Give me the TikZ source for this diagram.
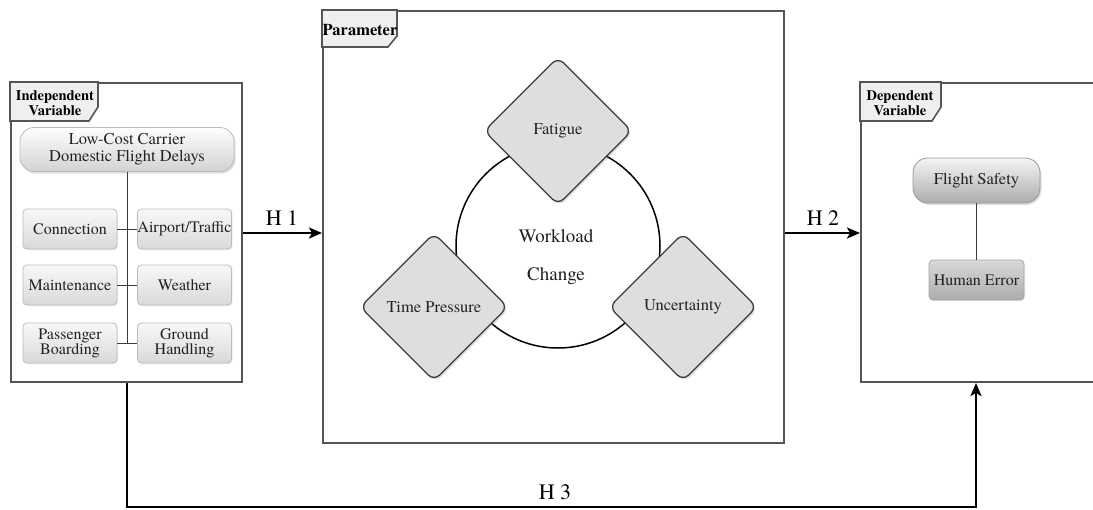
\documentclass[tikz,border=0pt]{standalone}
\usepackage{fontspec}
\newfontfamily\tnr{TeX Gyre Termes}
\usetikzlibrary{shapes.geometric,shadows,arrows.meta}
\definecolor{framegray}{HTML}{555555}
\definecolor{tabfill}{HTML}{EFEFEF}
\definecolor{diafill}{HTML}{DEDEDE}
\definecolor{diaedge}{HTML}{3C3C3C}
\definecolor{boxedge}{HTML}{BBBBBB}
\definecolor{txt}{HTML}{222222}
\tikzset{
  frame/.style={draw=framegray, line width=2pt, fill=white, inner sep=0pt},
  tab/.style={draw=framegray, line width=1.6pt, fill=tabfill},
  tabtext/.style={font=\tnr\fontsize{14.5}{16}\selectfont\bfseries, align=center, inner sep=0pt, text=black},
  smallbox/.style={draw=boxedge, line width=0.8pt, rounded corners=4pt, top color=white!95!gray, bottom color=gray!30,
    minimum width=94pt, minimum height=40pt, inner sep=0pt, align=center, text=txt,
    font=\tnr\fontsize{16}{17}\selectfont, drop shadow={opacity=0.15, shadow xshift=1pt, shadow yshift=-1pt}},
  pill/.style={draw=boxedge, line width=0.8pt, rounded corners=14pt, top color=white, bottom color=gray!35,
    inner sep=0pt, align=center, text=txt, font=\tnr\fontsize{16.5}{18}\selectfont,
    drop shadow={opacity=0.25, shadow xshift=1.5pt, shadow yshift=-2pt}},
  dia/.style={diamond, aspect=1, minimum width=148pt, minimum height=148pt, inner sep=0pt,
    draw=diaedge, line width=1.3pt, rounded corners=8pt, fill=diafill, text=txt,
    font=\tnr\fontsize{16.5}{18}\selectfont, drop shadow={opacity=0.25, shadow xshift=1.5pt, shadow yshift=-2pt}},
  conn/.style={draw=diaedge, line width=0.9pt},
  harrow/.style={line width=2.6pt, -{Stealth[length=13pt,width=11pt,inset=3pt]}},
  hlabel/.style={font=\tnr\fontsize{22}{24}\selectfont, inner sep=0pt, text=black},
}
\begin{document}
\begin{tikzpicture}[x=1pt,y=-1pt]
\useasboundingbox (0,0) rectangle (1093,509);
\fill[white] (0,0) rectangle (1093,509);

% ---------- frames ----------
\node[frame, minimum width=231pt, minimum height=299pt] (indep) at (126.5,232.5) {};
\node[frame, minimum width=461pt, minimum height=432pt] (param) at (553.5,227) {};
\node[frame, minimum width=240pt, minimum height=299pt] (dep) at (981,232.5) {};

% ---------- tabs ----------
\draw[tab] (indep.north west) -- ++(88,0) -- ++(0,25) -- ++(-9,14) -- ++(-79,0) -- cycle;
\node[tabtext] (indeplbl) at (55,103) {Independent\\[-1pt]Variable};
\draw[tab] (param.north west) -- ++(75,0) -- ++(0,26) -- ++(-9,11) -- ++(-66,0) -- cycle;
\node[tabtext, font=\tnr\fontsize{16.5}{17}\selectfont\bfseries, anchor=west] (paramlbl) at (322.5,30) {Parameter};
\draw[tab] (dep.north west) -- ++(81,0) -- ++(0,25) -- ++(-9,14) -- ++(-72,0) -- cycle;
\node[tabtext] (deplbl) at (900,103) {Dependent\\[-1pt]Variable};

% ---------- independent variable contents ----------
\node[pill, minimum width=214pt, minimum height=44pt] (lcc) at (127,149.5) {Low-Cost Carrier\\[-1pt]Domestic Flight Delays};
\node[smallbox] (connection) at (70,229) {Connection};
\node[smallbox] (airport) at (184.5,229) {Airport/Traffic};
\node[smallbox] (maint) at (70,285) {Maintenance};
\node[smallbox] (weather) at (184.5,285) {Weather};
\node[smallbox] (pass) at (70,343) {Passenger\\[-2pt]Boarding};
\node[smallbox] (ground) at (184.5,343) {Ground\\[-2pt]Handling};
\coordinate (junction) at (127,343);
\draw[conn] (lcc.south) -- (junction);
\draw[conn] (connection.east) -- (airport.west);
\draw[conn] (maint.east) -- (weather.west);
\draw[conn] (pass.east) -- (ground.west);

% ---------- parameter contents ----------
\node[circle, draw=black, line width=1.5pt, minimum size=204pt, inner sep=0pt] (work) at (558,246) {};
\node[font=\tnr\fontsize{19}{20}\selectfont, text=txt, inner sep=0pt] (worklbl1) at (556,236) {Workload};
\node[font=\tnr\fontsize{19}{20}\selectfont, text=txt, inner sep=0pt] (worklbl2) at (556,276) {Change};
\node[dia] (fatigue) at (558,131) {Fatigue};
\node[dia] (timep) at (434,307) {Time Pressure};
\node[dia] (uncert) at (683,307) {Uncertainty};

% ---------- dependent variable contents ----------
\node[pill, minimum width=127pt, minimum height=45pt, rounded corners=15pt, draw=gray!80, top color=white!92!gray, bottom color=gray!65] (safety) at (976.5,180.5) {Flight Safety};
\node[smallbox, minimum width=95pt, minimum height=40pt, draw=gray!70, top color=gray!30, bottom color=gray!65] (herror) at (976.5,280) {Human Error};
\draw[conn] (safety.south) -- (herror.north);

% ---------- hypotheses ----------
\draw[harrow] (indep.east |- 0,233) -- (param.west |- 0,233);
\node[hlabel] (h1) at (282,218) {H 1};
\draw[harrow] (param.east |- 0,233) -- (dep.west |- 0,233);
\node[hlabel] (h2) at (823,218) {H 2};
\coordinate (h3a) at (127,507);
\coordinate (h3b) at (976,507);
\draw[harrow] (indep.south -| h3a) -- (h3a) -- (h3b) -- (dep.south -| h3b);
\node[hlabel] (h3) at (555,492) {H 3};
\end{tikzpicture}
\end{document}
